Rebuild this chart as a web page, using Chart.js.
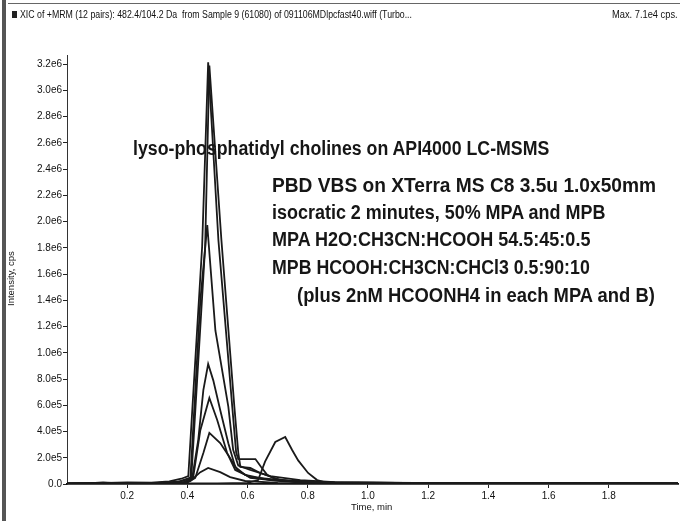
<!DOCTYPE html>
<html>
<head>
<meta charset="utf-8">
<script src="https://cdn.jsdelivr.net/npm/chart.js@4.4.1/dist/chart.umd.min.js"></script>
<style>
  body { margin: 0; background: #fff; }
  #wrap { position: relative; width: 680px; height: 521px; overflow: hidden; font-family: "Liberation Sans", Arial, sans-serif; color: #111; }
  #wrap canvas { position: absolute; left: 0; top: 0; }
  .txt { position: absolute; white-space: nowrap; transform-origin: 0 0; }
  .note { font-weight: bold; font-size: 20px; line-height: 20px; color: #161616; }
  .small { font-size: 10px; line-height: 10px; }
</style>
</head>
<body>
<div id="wrap">
  <canvas id="xic" width="680" height="521"></canvas>
  <!-- moldura escaneada -->
  <div style="position:absolute;left:2px;top:0;width:4px;height:521px;background:#555;"></div>
  <div style="position:absolute;left:8px;top:3px;width:672px;height:1px;background:#666;"></div>
  <div style="position:absolute;left:12px;top:11px;width:5px;height:7px;background:#222;"></div>

  <div class="txt small" id="hdr" data-w="392" style="left:20px;top:10px;">XIC of +MRM (12 pairs): 482.4/104.2 Da&nbsp; from Sample 9 (61080) of 091106MDlpcfast40.wiff (Turbo...</div>
  <div class="txt small" id="hdrMax" data-w="66" style="left:612px;top:10px;">Max. 7.1e4 cps.</div>

  <div class="txt small" id="ytitle" style="left:6px;top:306px;transform:rotate(-90deg);font-size:9.5px;">Intensity, cps</div>
  <div class="txt small" id="xtitle" style="left:351px;top:502px;font-size:9.5px;">Time, min</div>

  <div class="txt note" data-w="416" style="left:133px;top:138px;">lyso-phosphatidyl cholines on API4000 LC-MSMS</div>
  <div class="txt note" data-w="384" style="left:272px;top:175px;">PBD VBS on XTerra MS C8 3.5u 1.0x50mm</div>
  <div class="txt note" data-w="333" style="left:272px;top:202px;">isocratic 2 minutes, 50% MPA and MPB</div>
  <div class="txt note" data-w="318" style="left:272px;top:229px;">MPA H2O:CH3CN:HCOOH 54.5:45:0.5</div>
  <div class="txt note" data-w="318" style="left:272px;top:257px;">MPB HCOOH:CH3CN:CHCl3 0.5:90:10</div>
  <div class="txt note" data-w="358" style="left:297px;top:285px;">(plus 2nM HCOONH4 in each MPA and B)</div>
</div>
<script>
// Eixos: tempo (min) e intensidade (cps)
const xTicks = [0.2, 0.4, 0.6, 0.8, 1.0, 1.2, 1.4, 1.6, 1.8];
const yTicks = [0, 2e5, 4e5, 6e5, 8e5, 1e6, 1.2e6, 1.4e6, 1.6e6, 1.8e6, 2.0e6, 2.2e6, 2.4e6, 2.6e6, 2.8e6, 3.0e6, 3.2e6];

// Traços XIC: [tempo min, intensidade em 1e6 cps]
const peakA = [[0,0.004],[0.10,0.006],[0.20,0.012],[0.28,0.010],[0.34,0.020],[0.38,0.040],[0.403,0.06],[0.449,1.81],[0.469,3.215],[0.503,1.86],[0.549,0.59],[0.562,0.24],[0.569,0.19],[0.626,0.19],[0.645,0.13],[0.665,0.07],[0.69,0.04],[0.76,0.015],[1.1,0.008],[2.03,0.004]];
const peakB = [[0,0.003],[0.30,0.008],[0.38,0.02],[0.413,0.05],[0.459,1.81],[0.473,3.19],[0.513,1.86],[0.556,0.59],[0.569,0.24],[0.576,0.13],[0.609,0.122],[0.642,0.084],[0.708,0.03],[0.875,0.012],[1.3,0.006],[2.03,0.004]];
const peakC = [[0,0.003],[0.36,0.01],[0.41,0.046],[0.443,1.40],[0.466,1.973],[0.493,1.17],[0.536,0.59],[0.552,0.26],[0.569,0.14],[0.609,0.107],[0.675,0.06],[0.775,0.03],[0.89,0.015],[1.2,0.006],[2.03,0.003]];
const peakD = [[0,0.002],[0.38,0.008],[0.416,0.046],[0.436,0.335],[0.453,0.716],[0.469,0.914],[0.486,0.79],[0.509,0.564],[0.536,0.31],[0.559,0.13],[0.592,0.069],[0.675,0.03],[0.84,0.008],[2.03,0.003]];
const peakE = [[0,0.002],[0.39,0.008],[0.419,0.046],[0.443,0.41],[0.473,0.655],[0.499,0.488],[0.532,0.236],[0.559,0.107],[0.609,0.053],[0.742,0.023],[0.9,0.008],[2.03,0.003]];
const peakF = [[0,0.002],[0.40,0.01],[0.426,0.046],[0.453,0.236],[0.473,0.389],[0.509,0.312],[0.536,0.22],[0.566,0.107],[0.609,0.046],[0.708,0.023],[0.85,0.008],[2.03,0.003]];
const peakG = [[0,0.002],[0.38,0.008],[0.41,0.023],[0.443,0.09],[0.469,0.122],[0.509,0.09],[0.542,0.053],[0.592,0.023],[0.7,0.008],[2.03,0.003]];
const peakH = [[0,0.003],[0.08,0.006],[0.12,0.012],[0.16,0.006],[0.5,0.005],[0.6,0.008],[0.635,0.03],[0.658,0.17],[0.692,0.32],[0.725,0.358],[0.748,0.259],[0.768,0.18],[0.801,0.084],[0.831,0.03],[0.864,0.008],[1.0,0.005],[2.03,0.004]];

const traces = [peakA, peakB, peakC, peakD, peakE, peakF, peakG, peakH];

// ajusta a largura dos textos ao escaneado
document.querySelectorAll('.txt[data-w]').forEach(function(el) {
    const w = parseFloat(el.dataset.w);
    el.style.transform = 'scaleX(' + (w / el.scrollWidth).toFixed(3) + ')';
});

new Chart(document.getElementById('xic'), {
    type: 'line',
    data: {
        datasets: traces.map(function(tr) {
            return {
                data: tr.map(function(p) { return { x: p[0], y: p[1] * 1e6 }; }),
                borderColor: '#1a1a1a',
                borderWidth: 1.8,
                pointRadius: 0,
                tension: 0,
                fill: false
            };
        })
    },
    options: {
        responsive: false,
        animation: false,
        layout: { padding: { top: 55, right: 2, left: 0, bottom: 0 } },
        plugins: { legend: { display: false }, tooltip: { enabled: false } },
        scales: {
            x: {
                type: 'linear',
                min: 0,
                max: 2.03,
                afterFit: function(s) { s.height = 37; },
                afterBuildTicks: function(s) { s.ticks = xTicks.map(function(v) { return { value: v }; }); },
                border: { color: '#111', width: 1.8 },
                grid: { drawOnChartArea: false, tickLength: 4, color: '#222' },
                ticks: {
                    color: '#111', padding: 2, maxRotation: 0,
                    font: { family: 'Liberation Sans', size: 10 },
                    callback: function(v) { return v.toFixed(1); }
                }
            },
            y: {
                min: 0,
                max: 3.27e6,
                afterFit: function(s) { s.width = 67; },
                afterBuildTicks: function(s) { s.ticks = yTicks.map(function(v) { return { value: v }; }); },
                border: { color: '#333', width: 1, dash: [2, 1] },
                grid: { drawOnChartArea: false, tickLength: 4, color: '#222' },
                ticks: {
                    color: '#111', padding: 1,
                    font: { family: 'Liberation Sans', size: 10 },
                    callback: function(v) { return v === 0 ? '0.0' : v.toExponential(1).replace('+', ''); }
                }
            }
        }
    }
});
</script>
</body>
</html>
